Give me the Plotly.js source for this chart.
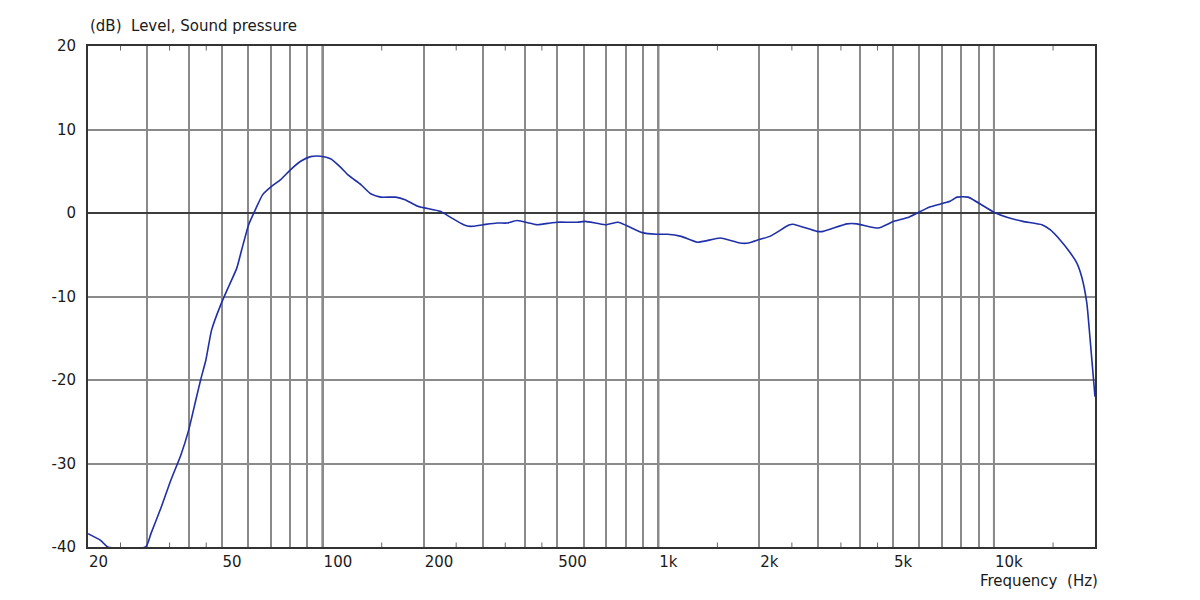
<!DOCTYPE html>
<html>
<head>
<meta charset="utf-8">
<script src="https://cdn.plot.ly/plotly-3.0.1.min.js"></script>
<style>
  html, body { margin: 0; padding: 0; background: #ffffff; }
  #chart { width: 1200px; height: 600px; }
</style>
</head>
<body>
<div id="chart"></div>
<script>
// Frequency response (Hz, dB)
const freqHz = [20, 21.8, 22.9, 29.7, 30.8, 33.0, 35.3, 37.8, 39.9, 41.9, 43.3, 44.9, 46.7, 49.7, 52.5, 55.5, 57.4, 60.2, 63.2, 66.3, 70.0, 75.0, 80.3, 86.0, 92.1, 98.6, 105.6, 113, 119.5, 130, 139, 149, 165, 176, 192, 224, 240, 263, 276, 301, 331, 355, 380, 436, 477, 500, 574, 606, 695, 760, 809, 896, 985, 1064, 1170, 1306, 1530, 1750, 1855, 2010, 2150, 2450, 2520, 2970, 3100, 3650, 3910, 4520, 5030, 5580, 6410, 7400, 7760, 8370, 9990, 10930, 12200, 13900, 14700, 15720, 16830, 17660, 18270, 18910, 19310, 20000];
const levelDb = [-38.4, -39.2, -40, -40, -38.4, -35.3, -32, -29, -26, -22.4, -20, -17.6, -14, -11, -8.8, -6.6, -4.4, -1.4, 0.5, 2.2, 3.1, 4.0, 5.2, 6.2, 6.75, 6.8, 6.5, 5.5, 4.5, 3.4, 2.3, 1.9, 1.9, 1.6, 0.8, 0.2, -0.5, -1.4, -1.6, -1.4, -1.2, -1.2, -0.9, -1.4, -1.2, -1.1, -1.1, -1.0, -1.4, -1.1, -1.55, -2.35, -2.55, -2.55, -2.8, -3.5, -3.0, -3.6, -3.6, -3.15, -2.8, -1.45, -1.35, -2.2, -2.2, -1.3, -1.3, -1.8, -1.0, -0.5, 0.7, 1.4, 1.9, 1.9, 0.1, -0.5, -1.0, -1.4, -2.0, -3.2, -4.7, -6.0, -7.7, -10.8, -14.8, -22.0];

// Axis ticks / grid
const gridFreqs = [20, 30, 40, 50, 60, 70, 80, 90, 100, 200, 300, 400, 500, 600, 700, 800, 900, 1000, 2000, 3000, 4000, 5000, 6000, 7000, 8000, 9000, 10000];
const labelFreqs = [20, 50, 100, 200, 500, 1000, 2000, 5000, 10000];
const labelTexts = ['20', '50', '100', '200', '500', '1k', '2k', '5k', '10k'];
const decadeFreqs = [100, 1000, 10000];
const minorTickFreqs = [25, 35, 45, 150, 250, 350, 450, 1500, 2500, 3500, 4500, 15000];
const yTickVals = [-40, -30, -20, -10, 0, 10, 20];
const yTickText = ['-40', '-30', '-20', '-10', '0', '10', '20'];

const xTickText = gridFreqs.map(f => {
  const i = labelFreqs.indexOf(f);
  return i >= 0 ? labelTexts[i] : '';
});

const fontFamily = 'DejaVu Sans, Verdana, sans-serif';
const textColor = '#1a1a1a';

const shapes = [];
decadeFreqs.forEach(f => {
  shapes.push({type: 'line', xref: 'x', yref: 'paper', x0: f, x1: f, y0: 0, y1: 1,
    line: {color: '#3c3c3c', width: 2}, layer: 'between'});
});
minorTickFreqs.forEach(f => {
  shapes.push({type: 'line', xref: 'x', yref: 'paper', x0: f, x1: f, y0: 0, y1: 0.009,
    line: {color: '#666666', width: 1}, layer: 'above'});
  shapes.push({type: 'line', xref: 'x', yref: 'paper', x0: f, x1: f, y0: 0.991, y1: 1,
    line: {color: '#666666', width: 1}, layer: 'above'});
});

const trace = {
  x: freqHz,
  y: levelDb,
  type: 'scatter',
  mode: 'lines',
  line: {color: '#1f2fa8', width: 1.6, shape: 'spline', smoothing: 0.5},
  hoverinfo: 'x+y'
};

const layout = {
  width: 1200,
  height: 600,
  margin: {l: 88, r: 105, t: 46, b: 53, pad: 0},
  paper_bgcolor: '#ffffff',
  plot_bgcolor: '#ffffff',
  showlegend: false,
  font: {family: fontFamily, size: 15, color: textColor},
  xaxis: {
    type: 'log',
    range: [Math.log10(20), Math.log10(20000)],
    tickmode: 'array',
    tickvals: gridFreqs,
    ticktext: xTickText,
    ticks: '',
    ticklabelposition: 'outside right',
    showgrid: true,
    gridcolor: '#8a8a8a',
    gridwidth: 2,
    showline: true,
    linecolor: '#333333',
    linewidth: 2,
    mirror: true,
    zeroline: false,
    tickfont: {family: fontFamily, size: 15, color: textColor},
    fixedrange: true
  },
  yaxis: {
    range: [-40, 20],
    tickmode: 'array',
    tickvals: yTickVals,
    ticktext: yTickText,
    ticks: '',
    ticklabelstandoff: 7,
    showgrid: true,
    gridcolor: '#8a8a8a',
    gridwidth: 2,
    zeroline: true,
    zerolinecolor: '#3c3c3c',
    zerolinewidth: 2,
    showline: true,
    linecolor: '#333333',
    linewidth: 2,
    mirror: true,
    tickfont: {family: fontFamily, size: 15, color: textColor},
    fixedrange: true
  },
  shapes: shapes,
  annotations: [
    {text: '(dB)  Level, Sound pressure', xref: 'paper', yref: 'paper', x: 0, y: 1.04,
     xanchor: 'left', yanchor: 'middle', showarrow: false,
     font: {family: fontFamily, size: 15, color: textColor}},
    {text: 'Frequency  (Hz)', xref: 'paper', yref: 'paper', x: 1, y: -0.068,
     xanchor: 'right', yanchor: 'middle', xshift: 5, showarrow: false,
     font: {family: fontFamily, size: 15, color: textColor}}
  ]
};

Plotly.newPlot('chart', [trace], layout, {staticPlot: true, displayModeBar: false});
</script>
</body>
</html>
